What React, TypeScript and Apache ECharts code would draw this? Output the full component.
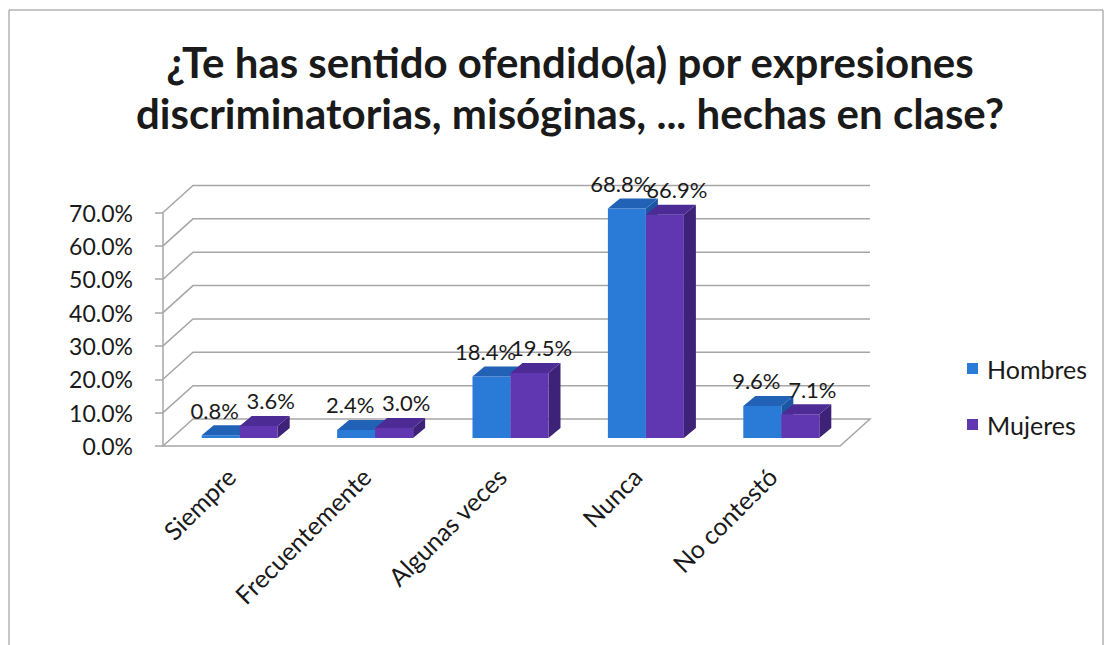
import React, { useEffect, useRef } from 'react';
import * as echarts from 'echarts';

const categories = ['Siempre', 'Frecuentemente', 'Algunas veces', 'Nunca', 'No contestó'];
const hombres = [0.8, 2.4, 18.4, 68.8, 9.6];
const mujeres = [3.6, 3.0, 19.5, 66.9, 7.1];
const yTicks = [0, 10, 20, 30, 40, 50, 60, 70];
const seriesNames = ['Hombres', 'Mujeres'];
const titleLines = ['¿Te has sentido ofendido(a) por expresiones', 'discriminatorias, misóginas, ... hechas en clase?'];

const FONT = 'Lato, "Open Sans", sans-serif';
const WALL = { dx: 30, dy: -27 };
const SHIFT = { dx: 9, dy: -8 };
const BD = { dx: 12, dy: -10 };
const BAR_W = 38;
const GRID_COLOR = '#A6A6A6';

const BLUE = { front: '#2A7AD8', top: '#2262B6', side: '#1C56A3' };
const PURPLE = { front: '#6137B1', top: '#4D2B94', side: '#3D2278' };

function makeBarRender(side: number, colors: any, labelDx: number) {
  return (params: any, api: any) => {
    const i = api.value(0);
    const v = api.value(1);
    const base = api.coord([i, 0]);
    const tp = api.coord([i, v]);
    const cx = base[0] + SHIFT.dx;
    const x0 = side === 0 ? cx - BAR_W : cx;
    const x1 = x0 + BAR_W;
    const yb = base[1] + SHIFT.dy;
    const yt = tp[1] + SHIFT.dy;
    const { dx, dy } = BD;
    return {
      type: 'group',
      children: [
        { type: 'polygon', shape: { points: [[x1, yt], [x1 + dx, yt + dy], [x1 + dx, yb + dy], [x1, yb]] }, style: { fill: colors.side } },
        { type: 'rect', shape: { x: x0, y: yt, width: BAR_W, height: yb - yt }, style: { fill: colors.front } },
        { type: 'polygon', shape: { points: [[x0, yt], [x1, yt], [x1 + dx, yt + dy], [x0 + dx, yt + dy]] }, style: { fill: colors.top } },
        {
          type: 'text', z2: 100, x: (x0 + x1) / 2 + labelDx, y: yt + dy - 15,
          style: { text: v.toFixed(1) + '%', fill: '#1a1a1a', font: `22px ${FONT}`, textAlign: 'center', textVerticalAlign: 'middle' },
        },
      ],
    };
  };
}

function renderWalls(params: any, api: any) {
  const cs = params.coordSys;
  const L = cs.x;
  const R = cs.x + cs.width;
  const children: any[] = [];
  const y0 = api.coord([0, 0])[1];
  children.push({
    type: 'polygon',
    shape: { points: [[L, y0], [R, y0], [R + WALL.dx, y0 + WALL.dy], [L + WALL.dx, y0 + WALL.dy]] },
    style: { fill: '#fff', stroke: GRID_COLOR, lineWidth: 1.5 },
  });
  yTicks.forEach((t) => {
    if (t === 0) return;
    const y = api.coord([0, t])[1];
    children.push({
      type: 'polyline',
      shape: { points: [[L, y], [L + WALL.dx, y + WALL.dy], [R + WALL.dx, y + WALL.dy]] },
      style: { fill: 'none', stroke: GRID_COLOR, lineWidth: 1.5 },
    });
  });
  return { type: 'group', children };
}

export default function App() {
  const ref = useRef<HTMLDivElement>(null);
  useEffect(() => {
    const chart = echarts.init(ref.current!, null, { renderer: 'svg' });
    chart.setOption({
      animation: false,
      backgroundColor: '#fff',
      title: {
        text: titleLines.join('\n'),
        left: 565,
        textAlign: 'center',
        top: 31,
        textStyle: { fontFamily: FONT, fontWeight: 'bold', fontSize: 42, lineHeight: 51, color: '#1a1a1a' },
      },
      graphic: [
        { type: 'rect', shape: { x: 9, y: 10, width: 1094, height: 700 }, style: { fill: 'none', stroke: '#8C8C8C', lineWidth: 1 }, silent: true },
      ],
      legend: {
        orient: 'vertical',
        left: 962,
        top: 351,
        itemWidth: 11,
        itemHeight: 11,
        itemGap: 31,
        icon: 'rect',
        data: seriesNames,
        textStyle: { fontFamily: FONT, fontSize: 25, color: '#1a1a1a', padding: [0, 0, 0, 4] },
      },
      grid: { left: 163, right: 270, top: 212.5, bottom: 199 },
      xAxis: {
        type: 'category',
        data: categories,
        axisLine: { show: false },
        axisTick: { show: false },
        axisLabel: { rotate: 45, margin: 26, interval: 0, fontFamily: FONT, fontSize: 25, color: '#1a1a1a' },
      },
      yAxis: {
        type: 'value',
        min: 0,
        max: 70,
        interval: 10,
        splitLine: { show: false },
        axisLine: { show: true, lineStyle: { color: GRID_COLOR, width: 1.5 } },
        axisTick: { show: true, length: 8, lineStyle: { color: GRID_COLOR, width: 1.5 } },
        axisLabel: { margin: 30, fontFamily: FONT, fontSize: 23, color: '#1a1a1a', formatter: (v: number) => v.toFixed(1) + '%' },
      },
      series: [
        { type: 'custom', name: '_walls', z: 1, silent: true, renderItem: renderWalls, data: [[0, 0]] },
        {
          type: 'custom', name: seriesNames[0], itemStyle: { color: BLUE.front },
          renderItem: makeBarRender(0, BLUE, -6),
          data: hombres.map((v, i) => [i, v]),
        },
        {
          type: 'custom', name: seriesNames[1], itemStyle: { color: PURPLE.front },
          renderItem: makeBarRender(1, PURPLE, 12),
          data: mujeres.map((v, i) => [i, v]),
        },
      ],
    });
    return () => chart.dispose();
  }, []);
  return <div ref={ref} style={{ position: 'absolute', left: 0, top: 0, width: 1110, height: 645 }} />;
}
